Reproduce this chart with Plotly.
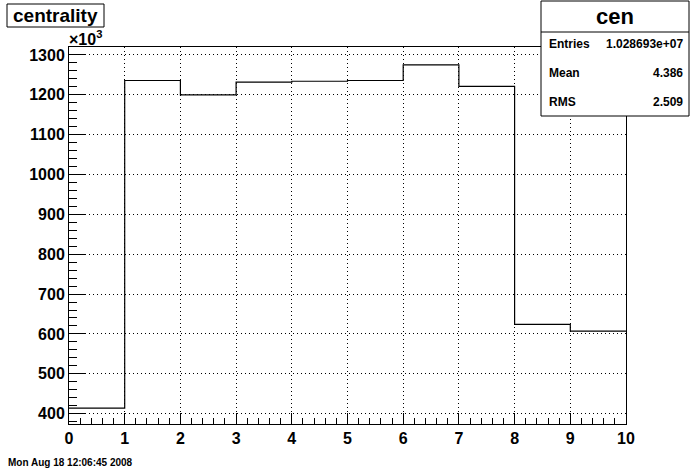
import plotly.graph_objects as go

# Histogram "cen" (centrality), values in units of 10^3 entries
bin_edges = [0, 1, 2, 3, 4, 5, 6, 7, 8, 9, 10]
counts_k = [414, 1236, 1200, 1232, 1234, 1236, 1275, 1221, 624, 607]
x_ticks = [0, 1, 2, 3, 4, 5, 6, 7, 8, 9, 10]
y_ticks = [400, 500, 600, 700, 800, 900, 1000, 1100, 1200, 1300]

hist_title = "centrality"
stats_name = "cen"
stats_rows = [("Entries", "1.028693e+07"), ("Mean", "4.386"), ("RMS", "2.509")]
date_text = "Mon Aug 18 12:06:45 2008"

W, H = 696, 472
L, R, T, B = 69, 626, 47, 424


def px(x):
    return (x - L) / (R - L)


def py(y):
    return (B - y) / (B - T)


FONT = "Liberation Sans"

fig = go.Figure()
fig.add_trace(go.Scatter(
    x=bin_edges,
    y=counts_k + [counts_k[-1]],
    mode="lines",
    line=dict(shape="hv", color="black", width=1.2),
    hoverinfo="skip",
    showlegend=False,
))

axis_common = dict(
    showline=True, mirror=True, linecolor="black", linewidth=1,
    ticks="inside", tickcolor="black",
    showgrid=True, gridcolor="black", griddash="1px,3px", gridwidth=1,
    zeroline=False,
    tickfont=dict(family=FONT, size=16, color="black", weight="bold"),
)

fig.update_xaxes(
    range=[0, 10], tickvals=x_ticks, ticklen=11,
    minor=dict(dtick=0.2, ticks="inside", ticklen=6, tickcolor="black", showgrid=False),
    **axis_common,
)
fig.update_yaxes(
    range=[374, 1320], tickvals=y_ticks, ticklen=17,
    minor=dict(dtick=20, ticks="inside", ticklen=8, tickcolor="black", showgrid=False),
    **axis_common,
)

shapes = []
annotations = []

# title box
shapes.append(dict(type="rect", xref="paper", yref="paper",
                   x0=px(7), x1=px(104), y0=py(27), y1=py(4),
                   line=dict(color="black", width=1), fillcolor="white", layer="above"))
annotations.append(dict(xref="paper", yref="paper", x=px(55.5), y=py(15.5),
                        text=hist_title, showarrow=False,
                        xanchor="center", yanchor="middle",
                        font=dict(family=FONT, size=19, color="black", weight="bold")))

# x10^3
annotations.append(dict(xref="paper", yref="paper", x=px(67), y=py(38),
                        text="×10<sup>3</sup>", showarrow=False,
                        xanchor="left", yanchor="middle",
                        font=dict(family=FONT, size=16, color="black", weight="bold")))

# stats box
shapes.append(dict(type="rect", xref="paper", yref="paper",
                   x0=px(541), x1=px(689), y0=py(116), y1=py(1),
                   line=dict(color="black", width=1), fillcolor="white", layer="above"))
shapes.append(dict(type="line", xref="paper", yref="paper",
                   x0=px(541), x1=px(689), y0=py(32), y1=py(32),
                   line=dict(color="black", width=1), layer="above"))
annotations.append(dict(xref="paper", yref="paper", x=px(615), y=py(17),
                        text=stats_name, showarrow=False,
                        xanchor="center", yanchor="middle",
                        font=dict(family=FONT, size=22, color="black", weight="bold")))
row_y = [44, 73, 102]
for (lab, val), yy in zip(stats_rows, row_y):
    annotations.append(dict(xref="paper", yref="paper", x=px(547), y=py(yy),
                            text=lab, showarrow=False, xanchor="left", yanchor="middle",
                            font=dict(family=FONT, size=12, color="black", weight="bold")))
    annotations.append(dict(xref="paper", yref="paper", x=px(685), y=py(yy),
                            text=val, showarrow=False, xanchor="right", yanchor="middle",
                            font=dict(family=FONT, size=12, color="black", weight="bold")))

# date
annotations.append(dict(xref="paper", yref="paper", x=px(6), y=py(462),
                        text=date_text, showarrow=False, xanchor="left", yanchor="middle",
                        font=dict(family=FONT, size=10, color="black", weight="bold")))

fig.update_layout(
    width=W, height=H,
    margin=dict(l=L, r=W - R, t=T, b=H - B, pad=0),
    paper_bgcolor="white", plot_bgcolor="white",
    shapes=shapes, annotations=annotations,
    showlegend=False,
)

fig.write_html(
    "out.html",
    config={"displayModeBar": False},
    post_script="document.body.style.margin='0';document.body.style.overflow='hidden';",
)
